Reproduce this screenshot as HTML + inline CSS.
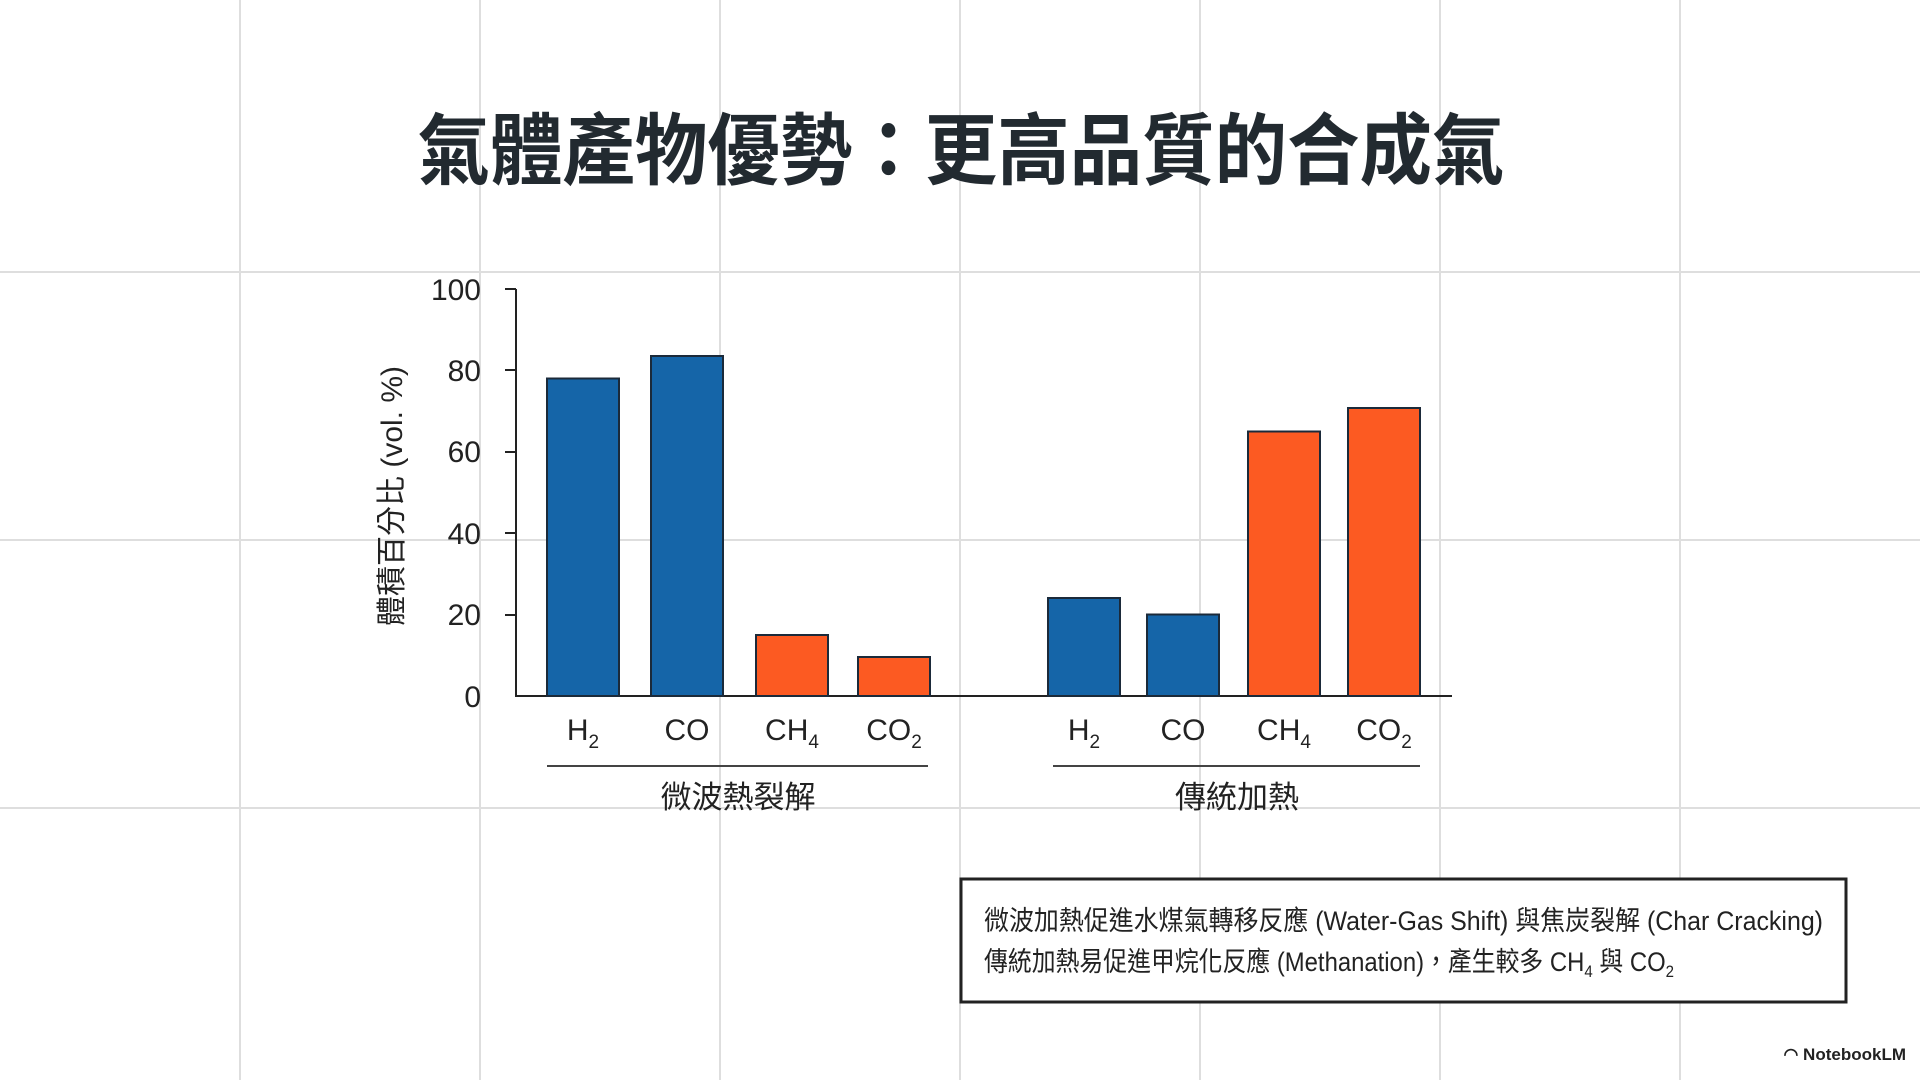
<!DOCTYPE html>
<html><head><meta charset="utf-8"><style>
html,body{margin:0;padding:0;background:#fff;}
svg{display:block;}
text{font-family:"Liberation Sans","Noto Sans CJK TC",sans-serif;}
</style></head><body>
<svg width="1920" height="1080" viewBox="0 0 1920 1080" xmlns="http://www.w3.org/2000/svg">
<rect width="1920" height="1080" fill="#fff"/>
<g stroke="#dedede" stroke-width="2">
<line x1="240" y1="0" x2="240" y2="1080"/><line x1="480" y1="0" x2="480" y2="1080"/>
<line x1="720" y1="0" x2="720" y2="1080"/><line x1="960" y1="0" x2="960" y2="1080"/>
<line x1="1200" y1="0" x2="1200" y2="1080"/><line x1="1440" y1="0" x2="1440" y2="1080"/>
<line x1="1680" y1="0" x2="1680" y2="1080"/>
<line x1="0" y1="272" x2="1920" y2="272"/><line x1="0" y1="540" x2="1920" y2="540"/>
<line x1="0" y1="808" x2="1920" y2="808"/>
</g>
<text x="961" y="178" text-anchor="middle" font-size="78" font-weight="bold" fill="#222a30" textLength="1087" lengthAdjust="spacingAndGlyphs" style="font-family:'Noto Sans CJK TC',sans-serif">氣體產物優勢：更高品質的合成氣</text>
<g font-size="30" fill="#222" text-anchor="end">
<text x="481" y="300">100</text><text x="481" y="381">80</text><text x="481" y="462">60</text>
<text x="481" y="544">40</text><text x="481" y="625">20</text><text x="481" y="707">0</text>
</g>
<g stroke="#222" stroke-width="2">
<line x1="516" y1="289" x2="516" y2="697"/>
<line x1="505" y1="289" x2="516" y2="289"/><line x1="505" y1="370" x2="516" y2="370"/>
<line x1="505" y1="452" x2="516" y2="452"/><line x1="505" y1="533" x2="516" y2="533"/>
<line x1="505" y1="615" x2="516" y2="615"/>
<line x1="516" y1="696" x2="1452" y2="696"/>
</g>
<g stroke="#1b2a3a" stroke-width="2">
<rect x="547" y="378.5" width="72" height="317.5" fill="#1565a8"/>
<rect x="651" y="356" width="72" height="340" fill="#1565a8"/>
<rect x="756" y="635" width="72" height="61" fill="#fc5a22"/>
<rect x="858" y="657" width="72" height="39" fill="#fc5a22"/>
<rect x="1048" y="598" width="72" height="98" fill="#1565a8"/>
<rect x="1147" y="614.5" width="72" height="81.5" fill="#1565a8"/>
<rect x="1248" y="431.5" width="72" height="264.5" fill="#fc5a22"/>
<rect x="1348" y="408" width="72" height="288" fill="#fc5a22"/>
</g>
<g font-size="30" fill="#222" text-anchor="middle">
<text x="583" y="740">H<tspan font-size="19" dy="8">2</tspan></text>
<text x="687" y="740">CO</text>
<text x="792" y="740">CH<tspan font-size="19" dy="8">4</tspan></text>
<text x="894" y="740">CO<tspan font-size="19" dy="8">2</tspan></text>
<text x="1084" y="740">H<tspan font-size="19" dy="8">2</tspan></text>
<text x="1183" y="740">CO</text>
<text x="1284" y="740">CH<tspan font-size="19" dy="8">4</tspan></text>
<text x="1384" y="740">CO<tspan font-size="19" dy="8">2</tspan></text>
</g>
<g stroke="#444" stroke-width="2">
<line x1="547" y1="766" x2="928" y2="766"/><line x1="1053" y1="766" x2="1420" y2="766"/>
</g>
<g font-size="31" fill="#222" text-anchor="middle">
<text x="738" y="808">微波熱裂解</text>
<text x="1237" y="808">傳統加熱</text>
</g>
<text transform="translate(402,496) rotate(-90)" text-anchor="middle" font-size="30" fill="#222">體積百分比 (vol. %)</text>
<rect x="961" y="879" width="885" height="123" fill="#fff" stroke="#222" stroke-width="3"/>
<g font-size="27" fill="#222">
<text x="984" y="930" textLength="839" lengthAdjust="spacingAndGlyphs">微波加熱促進水煤氣轉移反應 (Water-Gas Shift) 與焦炭裂解 (Char Cracking)</text>
<text x="984" y="971" textLength="690" lengthAdjust="spacingAndGlyphs">傳統加熱易促進甲烷化反應 (Methanation)，產生較多 CH<tspan font-size="17" dy="6">4</tspan><tspan dy="-6"> 與 CO</tspan><tspan font-size="17" dy="6">2</tspan></text>
</g>
<text x="1906" y="1060" text-anchor="end" font-size="17" font-weight="bold" fill="#222">◠ NotebookLM</text>
</svg>
</body></html>
